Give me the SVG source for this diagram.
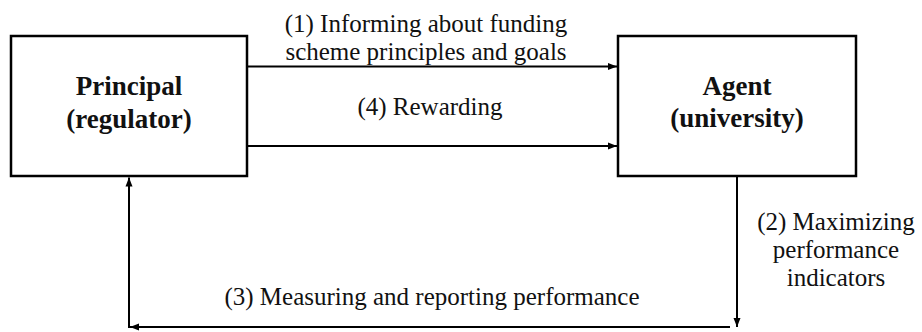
<svg xmlns="http://www.w3.org/2000/svg" width="922" height="332" viewBox="0 0 922 332">
  <style>
    .box { fill: #ffffff; stroke: #000000; stroke-width: 2.5; }
    .title { font-family: 'Liberation Serif', 'DejaVu Serif', serif; font-size: 27px; font-weight: bold; fill: #111111; text-anchor: middle; }
    .label { font-family: 'Liberation Serif', 'DejaVu Serif', serif; font-size: 25px; fill: #111111; text-anchor: middle; }
    .flow { fill: none; stroke: #000000; stroke-width: 2; marker-end: url(#head); }
  </style>
  <defs>
    <marker id="head" markerUnits="userSpaceOnUse" markerWidth="10" markerHeight="8" refX="9" refY="4" orient="auto">
      <path d="M0,0.5 L9,4 L0,7.5 Z" fill="#000000"/>
    </marker>
  </defs>
  <rect width="922" height="332" fill="#ffffff"/>

  <g id="principal">
    <rect class="box" x="11" y="36" width="236" height="140"/>
    <text class="title" x="129" y="95">Principal</text>
    <text class="title" x="129" y="128">(regulator)</text>
  </g>

  <g id="agent">
    <rect class="box" x="618" y="36" width="238" height="140"/>
    <text class="title" x="737" y="95">Agent</text>
    <text class="title" x="737" y="127">(university)</text>
  </g>

  <g id="connectors">
    <path class="flow" d="M247,66.5 H617"/>
    <path class="flow" d="M247,146 H617"/>
    <path class="flow" d="M737,176 V327"/>
    <path class="flow" d="M730,327 H130"/>
    <path class="flow" d="M129,328 V177.5"/>
  </g>

  <g id="labels">
    <text class="label" x="426" y="32">(1) Informing about funding</text>
    <text class="label" x="426" y="60">scheme principles and goals</text>
    <text class="label" x="430" y="115">(4) Rewarding</text>
    <text class="label" x="836" y="230">(2) Maximizing</text>
    <text class="label" x="836" y="258">performance</text>
    <text class="label" x="836" y="286">indicators</text>
    <text class="label" x="432" y="305">(3) Measuring and reporting performance</text>
  </g>
</svg>
